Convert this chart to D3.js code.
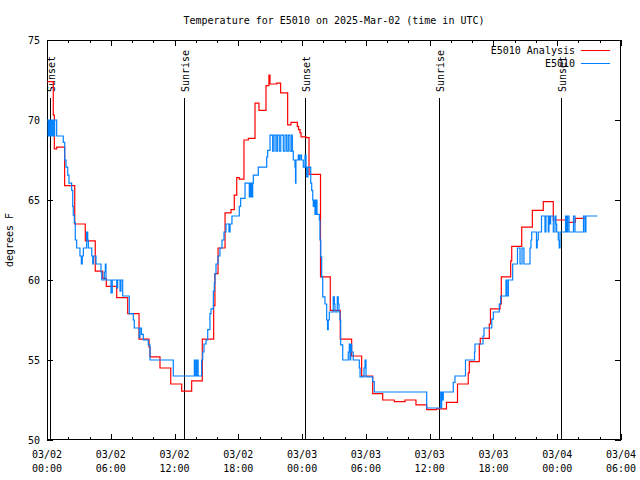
<!DOCTYPE html>
<html><head><meta charset="utf-8">
<script src="https://cdn.jsdelivr.net/npm/d3@7"></script>
<style>
body{margin:0;background:#fff;}
svg text{font-family:"DejaVu Sans Mono",monospace;font-size:10px;fill:#000;}
</style></head><body><svg id="c" width="640" height="480"></svg>
<script>
const titleText = "Temperature for E5010 on 2025-Mar-02 (time in UTC)";
const yLabel = "degrees F";
const seriesNames = ["E5010 Analysis", "E5010"];
const seriesColors = ["#ff0000", "#0080ff"];
const yTicks = [50, 55, 60, 65, 70, 75];
const majorTickHours = [0, 6, 12, 18, 24, 30, 36, 42, 48, 54];
const minorTickHours = [2,4,8,10,14,16,20,22,26,28,32,34,38,40,44,46,50,52];
const sunLabels = ["Sunset", "Sunrise", "Sunset", "Sunrise", "Sunset"];
const sunHours = [0.25, 12.92, 24.30, 36.90, 48.38];

// Analysis (hours since 03/02 00:00 UTC, deg F)
const anaHours = [0,0.59,0.69,0.91,1.66,2.61,3.60,4.54,5.24,5.58,6.56,7.59,8.66,9.60,9.69,10.63,11.64,12.67,13.61,14.61,15.68,15.80,16.09,16.75,17.31,17.62,17.85,18.09,18.53,18.94,19.57,19.94,20.60,20.88,20.98,21.61,21.98,22.64,22.95,23.55,23.66,23.80,23.90,24.37,24.65,25.73,26.65,27.59,28.66,29.60,30.64,31.58,32.67,33.68,34.71,35.72,36.64,37.58,38.62,39.63,39.73,40.67,40.76,41.61,41.72,42.62,42.74,43.62,43.72,44.66,45.66,46.69,47.63,48.80,49.70,50.61];
const anaTemps = [72.4,70.3,68.2,68.3,65.9,63.5,62.45,60.55,60.1,59.6,58.9,57.9,56.3,55.8,55.2,54.5,53.5,53.05,53.7,56.3,58.4,60.4,62.0,64.2,64.4,65.3,66.4,66.3,68.75,68.85,71.05,70.6,72.15,72.8,72.25,72.3,71.7,69.7,69.85,69.6,69.4,69.2,68.95,68.9,66.6,60.2,58.1,56.3,55.25,54.0,52.9,52.5,52.4,52.5,52.2,51.9,51.95,52.35,53.5,54.2,54.9,56.0,56.35,57.25,58.2,58.5,60.2,61.2,62.1,63.3,64.35,64.9,63.75,63.6,63.85,63.85];

// Observations
const obsHours = [0,0.11,0.17,0.28,0.35,0.47,0.54,0.66,0.72,0.91,1.53,1.67,1.79,1.95,2.07,2.32,2.42,2.47,2.57,2.66,2.79,3.10,3.23,3.32,3.42,3.73,3.83,3.89,4.21,4.30,4.36,4.61,5.08,5.15,5.39,5.49,5.55,6.02,6.14,6.56,6.65,6.87,6.96,7.12,7.74,8.12,8.21,8.68,8.75,8.89,9.06,9.53,9.69,11.88,13.86,13.90,14.02,14.06,14.18,14.22,14.55,14.65,14.77,14.96,15.12,15.33,15.43,15.65,15.74,15.80,15.90,16.09,16.27,16.46,16.65,16.84,17.12,17.22,17.40,18.09,18.22,18.63,19.03,19.10,19.19,19.26,19.31,19.35,19.41,19.88,20.67,20.76,20.98,21.23,21.36,21.54,21.67,21.85,21.99,22.23,22.39,22.55,22.70,22.86,23.02,23.08,23.17,23.33,23.38,23.42,23.64,23.71,23.80,23.94,24.11,24.27,24.37,24.43,24.55,24.81,24.90,25.00,25.05,25.12,25.21,25.31,25.40,25.62,25.68,25.75,25.84,25.94,26.15,26.31,26.39,26.46,26.56,26.93,27.03,27.09,27.31,27.40,27.47,27.56,27.63,27.82,28.34,28.44,28.50,28.57,28.66,28.81,29.38,29.45,29.82,29.92,30.01,30.64,30.79,35.72,37.04,37.08,37.13,37.18,37.28,38.22,38.38,39.37,40.22,40.26,41.02,41.11,41.84,41.99,42.55,42.68,43.18,43.27,43.40,43.81,44.26,44.50,44.69,44.87,45.44,45.53,45.60,46.05,46.12,46.22,46.52,46.85,46.94,47.16,47.22,47.32,47.38,47.63,47.79,47.88,47.95,48.10,48.19,48.26,48.78,48.89,48.98,49.11,49.53,49.67,50.47,50.61,50.70,51.77];
const obsTemps = [70,69,70,69,70,69,70,69,70,69,68.6,67.5,67.05,66.55,66.05,65.6,64.6,64.05,63.6,62.5,62,61.5,61.0,61.5,62,63,62.5,62,61.5,61.0,61.5,61.0,60.5,60.0,60.5,61.0,60.0,59.2,60.0,59.5,60.0,59.3,60.0,59.0,57.9,57.5,57.0,56.4,57.0,56.6,56.25,55.95,55.0,54.0,55,54,55,54,55,54,55,55.5,56,56.25,56.9,57.9,58.2,59.3,59.8,60.4,61.0,61.5,62.0,62.5,63.0,63.5,63.0,63.5,64.0,64.6,65.1,66.05,65.2,66.05,65.2,66.05,65.2,66.05,66.55,67.05,67.7,68.1,69.05,68.05,69.05,68.05,69.05,68.05,69.05,68.05,69.05,68.05,69.05,68.05,69.05,68.05,67.5,67.05,66.05,67.5,67.8,67.5,67.8,67.5,67.05,67.8,67.05,66.45,67.05,66.05,65.6,65.0,64.6,65.0,64.1,65.0,64.1,63.75,62.5,61.45,60.2,58.95,58.5,57.5,56.9,57.5,58.0,58.95,58.5,58.0,58.95,58.5,58.0,57.5,55.95,55.0,55.5,56.0,55.0,56.0,55.5,55.0,54.5,53.95,54.5,55.0,53.95,53.65,53.0,52.0,53.0,52.0,53.0,52.5,53.0,53.6,54.0,55.0,55.5,56.0,56.5,57.0,57.55,58.0,58.5,59.0,60.0,59.0,60.0,61.0,62.0,61.0,62.0,61.0,62.0,62.5,63.0,62.0,62.5,63.0,64.0,63.0,64.0,63.0,64.0,63.5,64.0,63.0,64.0,63.5,63.0,62.5,62.0,63.0,64.0,63.0,64.0,63.0,64.0,63.0,64.0,63.0,64.0,64.0];

const t0 = Date.UTC(2025, 2, 2, 0, 0);
const toDate = h => new Date(t0 + h * 3600e3);

const svg = d3.select("#c");
const L = 47, R = 621, T = 40, B = 440;
const x = d3.scaleUtc().domain([toDate(0), toDate(54)]).range([L, R]);
const y = d3.scaleLinear().domain([50, 75]).range([B, T]);

svg.append("text").attr("x", 334).attr("y", 24).attr("text-anchor", "middle").text(titleText);
svg.append("text").attr("transform", "translate(13,240) rotate(-90)").attr("text-anchor", "middle").text(yLabel);

function styleAxis(g) {
  g.select(".domain").remove();
  g.selectAll("line").attr("stroke", "#000").attr("shape-rendering", "crispEdges");
  g.selectAll("text").attr("font-family", null).attr("font-size", null);
}

const majorDates = majorTickHours.map(toDate), minorDates = minorTickHours.map(toDate);
svg.append("g").attr("transform", `translate(0,${B})`)
  .call(d3.axisBottom(x).tickValues(majorDates).tickSize(-6).tickFormat(""))
  .call(styleAxis);
svg.append("g").attr("transform", `translate(0,${B})`)
  .call(d3.axisBottom(x).tickValues(minorDates).tickSize(-3).tickFormat(""))
  .call(styleAxis);
svg.append("g").attr("transform", `translate(0,${T})`)
  .call(d3.axisTop(x).tickValues(majorDates).tickSize(-6).tickFormat(""))
  .call(styleAxis);
svg.append("g").attr("transform", `translate(0,${T})`)
  .call(d3.axisTop(x).tickValues(minorDates).tickSize(-3).tickFormat(""))
  .call(styleAxis);
svg.append("g").attr("transform", `translate(${L},0)`)
  .call(d3.axisLeft(y).tickValues(yTicks).tickSize(-6).tickPadding(7).tickFormat(d3.format("d")))
  .call(styleAxis);
svg.append("g").attr("transform", `translate(${R},0)`)
  .call(d3.axisRight(y).tickValues(yTicks).tickSize(-6).tickFormat(""))
  .call(styleAxis);

const fmtD = d3.utcFormat("%m/%d"), fmtT = d3.utcFormat("%H:%M");
const xl = svg.append("g").selectAll("text").data(majorDates).join("text")
  .attr("text-anchor", "middle").attr("x", d => x(d));
xl.append("tspan").attr("x", d => x(d)).attr("y", 458).text(d => fmtD(d));
xl.append("tspan").attr("x", d => x(d)).attr("y", 472).text(d => fmtT(d));

svg.append("rect").attr("x", L + 0.5).attr("y", T + 0.5).attr("width", R - L - 1).attr("height", B - T - 1)
  .attr("fill", "none").attr("stroke", "#000").attr("shape-rendering", "crispEdges");

const sg = svg.append("g");
sunHours.forEach((h, i) => {
  const xx = Math.round(x(toDate(h))) + 0.5;
  sg.append("line").attr("x1", xx).attr("x2", xx).attr("y1", 98).attr("y2", B)
    .attr("stroke", "#000").attr("stroke-width", 1).attr("shape-rendering", "crispEdges");
  sg.append("text").attr("transform", `translate(${xx + 4.5},92) rotate(-90)`).text(sunLabels[i]);
});

const line = d3.line().curve(d3.curveStepAfter).x(d => x(d[0])).y(d => y(d[1]));
const ana = anaHours.map((h, i) => [toDate(h), anaTemps[i]]);
const obs = obsHours.map((h, i) => [toDate(h), obsTemps[i]]);
[ana, obs].forEach((data, i) => {
  svg.append("path").datum(data).attr("d", line).attr("fill", "none")
    .attr("stroke", seriesColors[i]).attr("stroke-width", 1.2);
});

seriesNames.forEach((n, i) => {
  const yy = 50 + i * 13;
  svg.append("text").attr("x", 575).attr("y", yy + 4).attr("text-anchor", "end").text(n);
  svg.append("line").attr("x1", 581).attr("x2", 610).attr("y1", yy + 0.5).attr("y2", yy + 0.5)
    .attr("stroke", seriesColors[i]).attr("stroke-width", 1.2).attr("shape-rendering", "crispEdges");
});
</script></body></html>
